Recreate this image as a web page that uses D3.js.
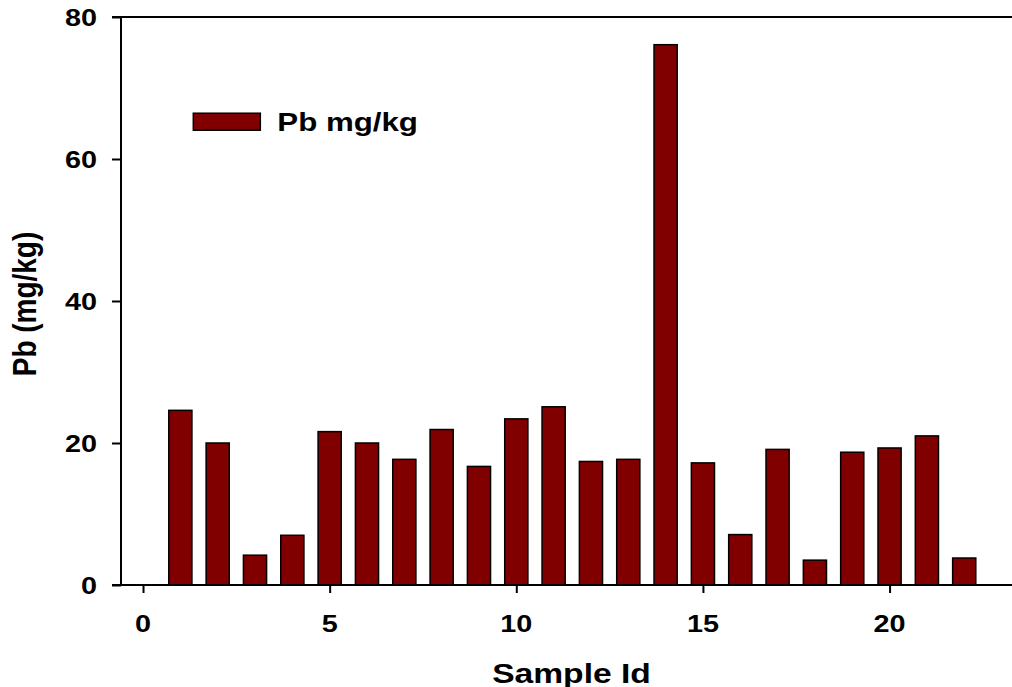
<!DOCTYPE html>
<html>
<head>
<meta charset="utf-8">
<script src="https://cdn.jsdelivr.net/npm/d3@7"></script>
<style>
  body { margin: 0; background: #fff; }
  text { font-family: "Liberation Sans", Arial, sans-serif; font-weight: bold; fill: #000; }
</style>
</head>
<body>
<div id="viz"></div>
<script>
// data

const sampleIds = [1, 2, 3, 4, 5, 6, 7, 8, 9, 10, 11, 12, 13, 14, 15, 16, 17, 18, 19, 20, 21, 22];
const pbValues = [24.6, 20.0, 4.2, 7.0, 21.6, 20.0, 17.7, 21.9, 16.7, 23.4, 25.1, 17.4,
                  17.7, 76.1, 17.2, 7.1, 19.1, 3.5, 18.7, 19.3, 21.0, 3.8];
const xTicks = [0, 5, 10, 15, 20];
const yTicks = [0, 20, 40, 60, 80];
const seriesName = "Pb mg/kg";

const data = sampleIds.map((id, i) => ({ id, value: pbValues[i] }));

// dimensions

const dms = {
  width: 1012,
  height: 687,
  margins: { top: 17, bottom: 102, left: 121, right: 0 }
};
dms.innerWidth = dms.width - dms.margins.left - dms.margins.right;
dms.innerHeight = dms.height - dms.margins.top - dms.margins.bottom;

// the source picture is stretched sideways, so text is too
const sx = 1.2;

const svg = d3.select("#viz")
  .append("svg")
    .attr("width", dms.width)
    .attr("height", dms.height);

const g = svg.append("g")
  .attr("transform", `translate(${dms.margins.left},${dms.margins.top})`);

// scales

const x = d3.scaleLinear()
  .domain([-0.59, 23.28])
  .range([0, dms.innerWidth]);

const y = d3.scaleLinear()
  .domain([0, 80])
  .range([dms.innerHeight, 0]);

const barW = x(0.62) - x(0);

// bars

g.selectAll("rect.bar")
  .data(data)
  .join("rect")
    .attr("class", "bar")
    .attr("x", d => x(d.id) - barW / 2)
    .attr("y", d => y(d.value))
    .attr("width", barW)
    .attr("height", d => y(0) - y(d.value))
    .attr("fill", "#800000")
    .attr("stroke", "#000")
    .attr("stroke-width", 1.5);

// axes

const yAxis = g.append("g")
  .call(d3.axisLeft(y).tickValues(yTicks).tickSize(9).tickFormat(""));

const xAxis = g.append("g")
  .attr("transform", `translate(0,${dms.innerHeight})`)
  .call(d3.axisBottom(x).tickValues(xTicks).tickSize(8).tickFormat(""));

[xAxis, yAxis].forEach(a => {
  a.select(".domain").remove();
  a.selectAll("line").attr("stroke", "#000").attr("stroke-width", 2);
});

// frame lines: left, bottom, top
g.append("line")
  .attr("x1", 0).attr("x2", 0)
  .attr("y1", 0).attr("y2", dms.innerHeight)
  .attr("stroke", "#000").attr("stroke-width", 2);
g.append("line")
  .attr("x1", -9).attr("x2", dms.innerWidth)
  .attr("y1", dms.innerHeight).attr("y2", dms.innerHeight)
  .attr("stroke", "#000").attr("stroke-width", 2);
g.append("line")
  .attr("x1", -9).attr("x2", dms.innerWidth)
  .attr("y1", 0).attr("y2", 0)
  .attr("stroke", "#000").attr("stroke-width", 2);

// tick labels

g.selectAll("text.ytick")
  .data(yTicks)
  .join("text")
    .attr("class", "ytick")
    .attr("transform", d => `translate(-24,${y(d)}) scale(${sx},1)`)
    .attr("text-anchor", "end")
    .attr("dy", "0.36em")
    .style("font-size", "24px")
    .text(d => d);

g.selectAll("text.xtick")
  .data(xTicks)
  .join("text")
    .attr("class", "xtick")
    .attr("transform", d => `translate(${x(d)},${dms.innerHeight + 47}) scale(${sx},1)`)
    .attr("text-anchor", "middle")
    .style("font-size", "24px")
    .text(d => d);

// axis titles

svg.append("text")
  .attr("transform", `translate(${dms.margins.left + dms.innerWidth / 2 + 5},${dms.height - 4}) scale(${sx},1)`)
  .attr("text-anchor", "middle")
  .style("font-size", "28px")
  .text("Sample Id");

svg.append("text")
  .attr("transform", `translate(36,${dms.margins.top + dms.innerHeight / 2 + 3}) scale(${sx},1) rotate(-90)`)
  .attr("text-anchor", "middle")
  .style("font-size", "28px")
  .text("Pb (mg/kg)");

// legend

const legend = g.append("g")
  .attr("transform", `translate(${x(1.2) + 5.5},${y(65.25)})`);

legend.append("rect")
  .attr("x", 0)
  .attr("y", -8.5)
  .attr("width", 67)
  .attr("height", 17)
  .attr("fill", "#800000")
  .attr("stroke", "#000")
  .attr("stroke-width", 1.5);

legend.append("text")
  .attr("transform", `translate(84,0) scale(1.25,1)`)
  .attr("dy", "0.36em")
  .style("font-size", "25px")
  .text(seriesName);
</script>
</body>
</html>
